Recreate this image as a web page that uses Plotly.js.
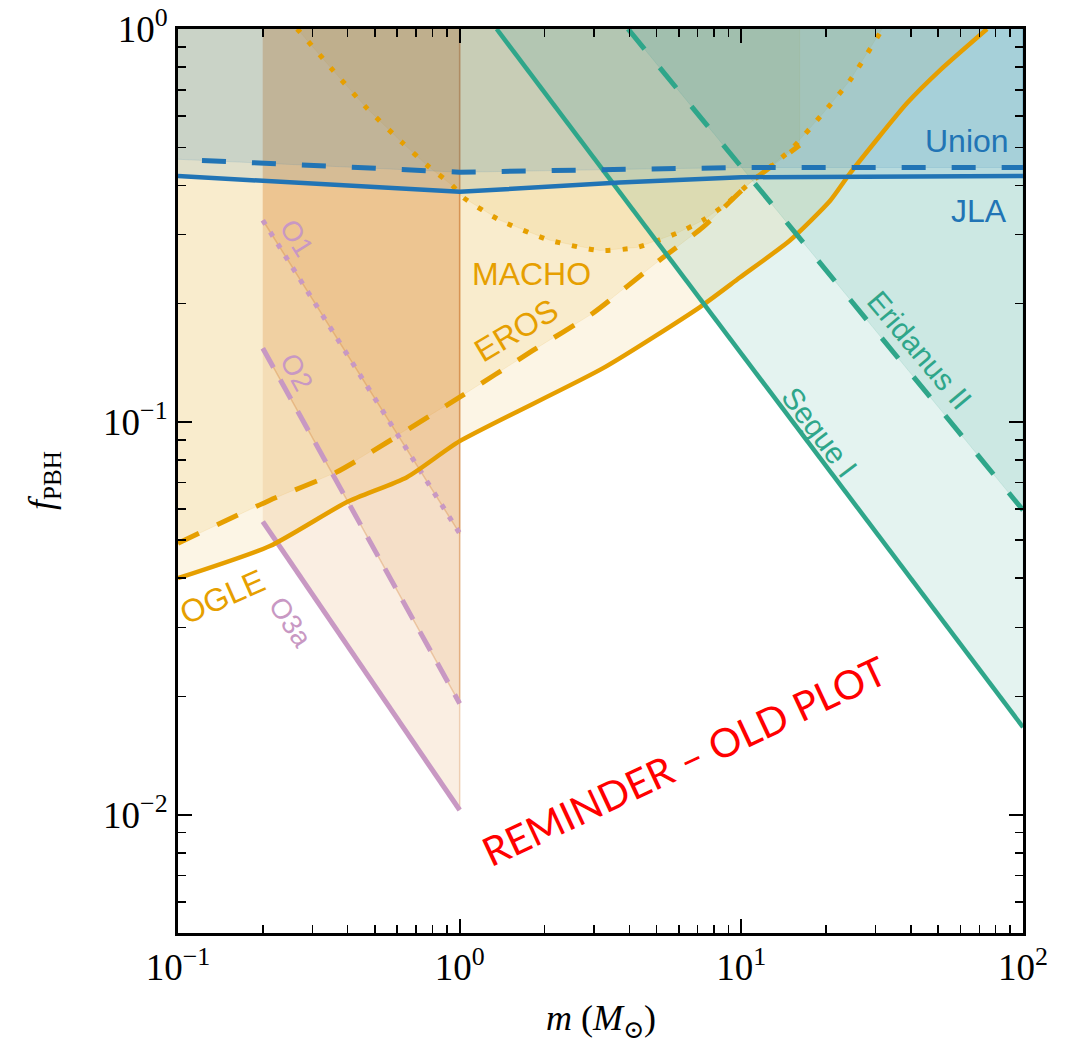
<!DOCTYPE html>
<html><head><meta charset="utf-8">
<script src="https://cdn.plot.ly/plotly-3.0.1.min.js"></script>
<style>html,body{margin:0;padding:0;background:#fff}#chart{width:1073px;height:1044px}</style>
</head><body><div id="chart"></div>
<script>
// ---- data (m in solar masses, f_PBH) ----
const ogleM  = [0.1, 0.212, 0.398, 0.650, 1.0, 3.23, 7.13, 9.88, 14.9, 20.7, 24.3, 38.7, 50.7, 74.5];
const ogleF  = [0.0400, 0.0483, 0.0625, 0.0723, 0.0893, 0.137, 0.196, 0.233, 0.290, 0.366, 0.429, 0.647, 0.785, 1.0];
const erosM  = [0.1, 0.212, 0.366, 1.0, 1.82, 2.97, 5.27, 7.31, 10.7, 16.1];
const erosF  = [0.0491, 0.0632, 0.0745, 0.1156, 0.152, 0.189, 0.262, 0.313, 0.405, 0.506];
const machoM = [0.2645, 0.271, 0.355, 0.469, 0.629, 0.766, 0.940, 1.027, 1.39, 2.09, 3.15, 4.26, 5.90, 7.31, 8.89, 10.7, 14.9, 19.5, 24.3, 31.0, 31.6];
const machoF = [1.0, 0.983, 0.785, 0.628, 0.512, 0.450, 0.400, 0.373, 0.326, 0.290, 0.273, 0.278, 0.302, 0.326, 0.360, 0.405, 0.491, 0.610, 0.740, 0.975, 1.0];
const jlaM   = [0.1, 1, 3.7, 10, 100];
const jlaF   = [0.4225, 0.385, 0.4066, 0.4195, 0.4225];
const unionM = [0.1, 1, 4.3, 10, 100];
const unionF = [0.466, 0.432, 0.440, 0.444, 0.444];
const ligoM  = [0.2, 1];
const o1F    = [0.326, 0.052];
const o2F    = [0.154, 0.0192];
const o3aF   = [0.0557, 0.01028];
const segueM = [1.353, 100];
const segueF = [1.0, 0.0167];
const eriM   = [3.96, 100];
const eriF   = [1.0, 0.0596];
const xTickVals = [0.1, 1, 10, 100];
const xTickText = ['10<sup>−1</sup>', '10<sup>0</sup>', '10<sup>1</sup>', '10<sup>2</sup>'];
const yTickVals = [0.01, 0.1, 1];
const yTickText = ['10<sup>−2</sup>', '10<sup>−1</sup>', '10<sup>0</sup>'];

// ---- styles ----
const ORANGE = '#E69F00', BLUE = '#2174b5', TEAL = '#2fa68a', PURPLE = '#c898c3';
const fOrange = 'rgba(230,159,0,0.10)';
const fBlue = 'rgba(31,119,180,0.11)';
const fLigo = 'rgba(215,125,30,0.13)';
const fTeal = 'rgba(47,165,140,0.13)';
const TOP = 1.6; // polygons closed beyond the visible top, clipped by the axes

function above(m, f, color, edge, ew) {
  return {x: m.concat([m[m.length-1], m[0]]), y: f.concat([TOP, TOP]),
    type: 'scatter', mode: 'lines', fill: 'toself', fillcolor: color,
    line: {color: edge || color, width: ew || 1}, hoverinfo: 'skip', showlegend: false};
}
function line(m, f, color, width, dash, shape) {
  return {x: m, y: f, type: 'scatter', mode: 'lines',
    line: {color: color, width: width, dash: dash || 'solid', shape: shape || 'linear', smoothing: 0.6},
    hoverinfo: 'skip', showlegend: false};
}

const ligoEdge = 'rgba(205,120,45,0.30)';
const traces = [
  above(ogleM, ogleF, fOrange),
  above(erosM, erosF, fOrange),
  above(machoM, machoF, fOrange),
  above(ligoM, o1F, fLigo, ligoEdge, 1.5),
  above(ligoM, o2F, fLigo, ligoEdge, 1.5),
  above(ligoM, o3aF, fLigo, ligoEdge, 1.5),
  above(segueM, segueF, fTeal),
  above(eriM, eriF, fTeal),
  above(jlaM, jlaF, fBlue),
  above(unionM, unionF, fBlue),
  line(ligoM, o1F, PURPLE, 5, '5px,9px'),
  line(ligoM, o2F, PURPLE, 5, '22px,14px'),
  line(ligoM, o3aF, PURPLE, 5),
  line(machoM, machoF, ORANGE, 5, '5px,12px', 'spline'),
  line(erosM, erosF, ORANGE, 5, '23px,20px', 'spline'),
  line(ogleM, ogleF, ORANGE, 4.5, 'solid', 'spline'),
  line(eriM, eriF, TEAL, 5, '26px,24px'),
  line(segueM, segueF, TEAL, 4.5),
  line(unionM, unionF, BLUE, 5, '0px,24px,24px,2px'),
  line(jlaM, jlaF, BLUE, 4.5)
];

const minorX = [], minorY = [];
[0.1, 1, 10].forEach(d => { for (let k = 2; k <= 9; k++) minorX.push(k * d); });
[0.001, 0.01, 0.1].forEach(d => { for (let k = 2; k <= 9; k++) minorY.push(k * d); });

const SANS = 'Liberation Sans, Arial, sans-serif';
const SERIF = 'Liberation Serif, DejaVu Serif, serif';
function lab(text, lx, ly, color, size, angle) {
  return {text: text, x: lx, y: ly, xref: 'x', yref: 'y', showarrow: false,
    xanchor: 'center', yanchor: 'middle', textangle: angle || 0,
    font: {family: SANS, size: size, color: color}};
}

const axisCommon = {
  type: 'log', showgrid: false, zeroline: false,
  showline: true, linecolor: 'black', linewidth: 3, mirror: 'ticks',
  ticks: 'inside', ticklen: 14, tickwidth: 2, tickcolor: 'black',
  tickfont: {family: SERIF, size: 37, color: 'black'},
  tickmode: 'array'
};

const layout = {
  width: 1073, height: 1044,
  margin: {l: 178, r: 50, t: 29, b: 111},
  paper_bgcolor: 'white', plot_bgcolor: 'white',
  showlegend: false,
  xaxis: Object.assign({}, axisCommon, {
    range: [-1, 2], tickvals: xTickVals, ticktext: xTickText,
    minor: {tickmode: 'array', tickvals: minorX, ticks: 'inside', ticklen: 8, tickwidth: 1.5, tickcolor: 'black'}
  }),
  yaxis: Object.assign({}, axisCommon, {
    range: [Math.log10(0.005), 0], tickvals: yTickVals, ticktext: yTickText,
    minor: {tickmode: 'array', tickvals: minorY, ticks: 'inside', ticklen: 8, tickwidth: 1.5, tickcolor: 'black'}
  }),
  annotations: [
    lab('Union', 1.8026, -0.2852, BLUE, 32),
    lab('JLA', 1.8435, -0.4639, BLUE, 32),
    lab('MACHO', 0.2556, -0.6224, ORANGE, 32),
    lab('EROS', 0.2033, -0.7667, ORANGE, 32, -31),
    lab('OGLE', -0.8438, -1.446, ORANGE, 32, -24),
    lab('O1', -0.5776, -0.5326, PURPLE, 28, 58),
    lab('O2', -0.5776, -0.8735, PURPLE, 28, 61),
    lab('O3a', -0.5989, -1.5095, PURPLE, 28, 56),
    lab('Eridanus II', 1.634, -0.8176, TEAL, 30, 50),
    lab('Segue I', 1.279, -1.0262, TEAL, 30, 53),
    {text: 'REMINDER – OLD PLOT', x: 0.796, y: -1.8633, xref: 'x', yref: 'y', showarrow: false,
      xanchor: 'center', yanchor: 'middle', textangle: -25,
      font: {family: 'Lato, Liberation Sans, sans-serif', size: 40, color: '#ff0000'}},
    {text: '<i>m</i> (<i>M</i><sub>⊙</sub>)', x: 0.5, y: 0, xref: 'paper', yref: 'paper',
      xanchor: 'center', yanchor: 'middle', yshift: -87, showarrow: false,
      font: {family: SERIF, size: 36, color: 'black'}},
    {text: '<i>f</i><sub>PBH</sub>', x: 0, y: 0.5, xref: 'paper', yref: 'paper',
      xanchor: 'center', yanchor: 'middle', xshift: -135, textangle: -90, showarrow: false,
      font: {family: SERIF, size: 36, color: 'black'}}
  ]
};

Plotly.newPlot('chart', traces, layout, {staticPlot: true, displayModeBar: false});
</script>
</body></html>
